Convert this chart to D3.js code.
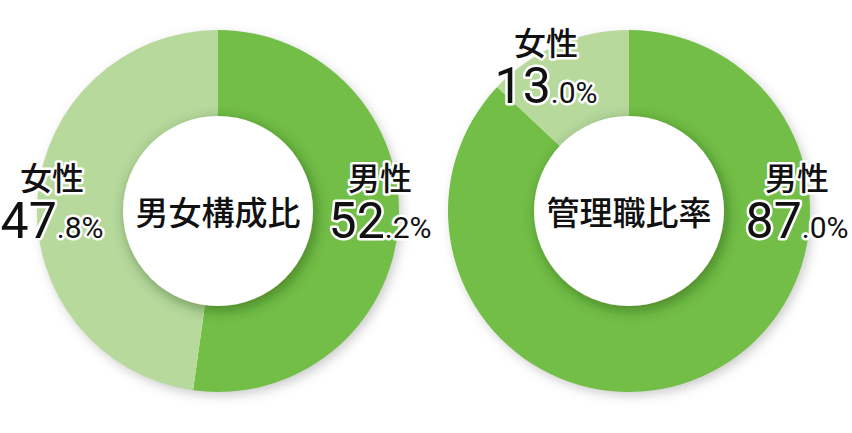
<!DOCTYPE html>
<html>
<head>
<meta charset="utf-8">
<script src="https://cdn.jsdelivr.net/npm/d3@7"></script>
<style>
    html, body { margin: 0; padding: 0; background: #fff; }
    svg { display: block; }
    .name { font-family: "Noto Sans CJK JP", sans-serif; font-weight: 500; fill: #111; }
    .num { font-family: Roboto, "Noto Sans", sans-serif; font-weight: 400; fill: #111; }
    .halo { stroke: #fff; stroke-width: 5px; stroke-linejoin: round; paint-order: stroke; }
</style>
</head>
<body>
<svg id="chart" width="852" height="433"></svg>
<script>
// data
const chartTitles = ["男女構成比", "管理職比率"]
const seriesNames = ["男性", "女性"]
const maleValues = [52.2, 87.0]
const femaleValues = [47.8, 13.0]
const seriesColors = ["#72be46", "#b7d99c"]

// layout
const W = 852, H = 433
const OUTER = 181, INNER = 95
const centers = [{x: 218, y: 211}, {x: 629, y: 211}]
// label offsets from the donut centre, per chart, per series
const labelOffsets = [
    [{x: 162, y: -21}, {x: -166, y: -21}],
    [{x: 168, y: -21}, {x: -83, y: -156}]
]

const svg = d3.select("#chart")
const defs = svg.append("defs")

defs.append("filter").attr("id", "outerShadow")
    .attr("x", "-20%").attr("y", "-20%").attr("width", "140%").attr("height", "140%")
    .append("feDropShadow")
    .attr("dx", 3).attr("dy", 4).attr("stdDeviation", 6)
    .attr("flood-color", "#000").attr("flood-opacity", 0.22)

defs.append("filter").attr("id", "innerShadow")
    .attr("x", "-30%").attr("y", "-30%").attr("width", "160%").attr("height", "160%")
    .append("feDropShadow")
    .attr("dx", 3).attr("dy", 4).attr("stdDeviation", 7)
    .attr("flood-color", "#1c3a08").attr("flood-opacity", 0.45)

const pie = d3.pie().sort(null).value(d => d.value)
const arc = d3.arc().innerRadius(0).outerRadius(OUTER)
const color = d3.scaleOrdinal().domain(seriesNames).range(seriesColors)

chartTitles.forEach((title, i) => {
    const data = [
        {name: seriesNames[0], value: maleValues[i]},
        {name: seriesNames[1], value: femaleValues[i]}
    ]
    const c = centers[i]
    const g = svg.append("g").attr("transform", `translate(${c.x},${c.y})`)

    // shadow under the ring
    g.append("circle").attr("r", OUTER - 1).attr("fill", "#fff")
        .attr("filter", "url(#outerShadow)")

    g.selectAll("path.slice")
        .data(pie(data))
        .join("path")
        .attr("class", "slice")
        .attr("d", arc)
        .attr("fill", d => color(d.data.name))

    g.append("circle").attr("r", INNER).attr("fill", "#fff")
        .attr("filter", "url(#innerShadow)")

    g.append("text")
        .attr("class", "name")
        .attr("text-anchor", "middle")
        .attr("dy", "0.36em")
        .attr("x", 0).attr("y", 2)
        .style("font-size", "33px")
        .text(title)

    data.forEach((d, j) => {
        const off = labelOffsets[i][j]
        const lbl = g.append("g").attr("transform", `translate(${off.x},${off.y})`)
        lbl.append("text")
            .attr("class", "name halo")
            .attr("text-anchor", "middle")
            .style("font-size", "32px")
            .text(d.name)
        const parts = d.value.toFixed(1).split(".")
        const num = lbl.append("text")
            .attr("class", "num halo")
            .attr("text-anchor", "middle")
            .attr("y", 48)
        num.append("tspan").style("font-size", "50px").text(parts[0])
        num.append("tspan").style("font-size", "30px").text("." + parts[1] + "%")
    })
})
</script>
</body>
</html>
